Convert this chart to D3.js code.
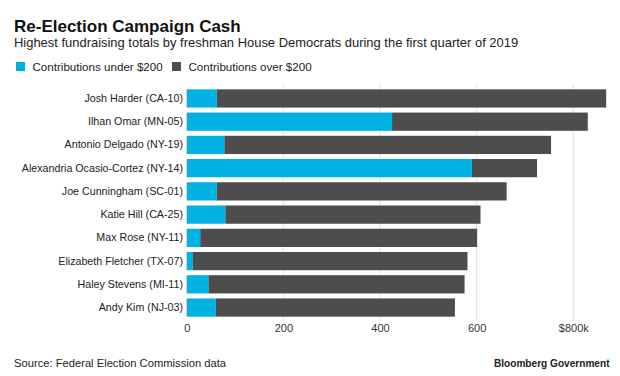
<!DOCTYPE html>
<html>
<head>
<meta charset="utf-8">
<script src="https://cdn.jsdelivr.net/npm/d3@7"></script>
<style>
  html, body { margin: 0; padding: 0; background: #fff; }
  svg { display: block; font-family: "Liberation Sans", Arial, Helvetica, sans-serif; }
</style>
</head>
<body>
<svg id="chart" width="620" height="376"></svg>
<script>
const candidates = [
  "Josh Harder (CA-10)",
  "Ilhan Omar (MN-05)",
  "Antonio Delgado (NY-19)",
  "Alexandria Ocasio-Cortez (NY-14)",
  "Joe Cunningham (SC-01)",
  "Katie Hill (CA-25)",
  "Max Rose (NY-11)",
  "Elizabeth Fletcher (TX-07)",
  "Haley Stevens (MI-11)",
  "Andy Kim (NJ-03)"
];
// thousands of dollars
const under200 = [62, 425, 78, 590, 62, 80, 28, 12, 45, 60];
const over200  = [806, 405, 676, 135, 600, 528, 573, 569, 530, 495];
const tickValues = [0, 200, 400, 600, 800];
const tickLabels = ["0", "200", "400", "600", "$800k"];
const seriesNames = ["Contributions under $200", "Contributions over $200"];
const seriesColors = ["#00b1e1", "#4d4d4d"];

const svg = d3.select("#chart");

const x = d3.scaleLinear().domain([0, 800]).range([186.7, 573.3]);
const y = d3.scaleBand().domain(candidates).range([87, 319]).paddingInner(0.215).paddingOuter(0.1);

// Title & subtitle
svg.append("text").attr("x", 14).attr("y", 31.5)
  .attr("font-size", 17).attr("font-weight", "bold").attr("fill", "#111")
  .text("Re-Election Campaign Cash");
svg.append("text").attr("x", 14).attr("y", 47.3)
  .attr("font-size", 12.95).attr("fill", "#222")
  .text("Highest fundraising totals by freshman House Democrats during the first quarter of 2019");

// Legend
const legendX = [16, 172];
seriesNames.forEach((n, i) => {
  svg.append("rect").attr("x", legendX[i]).attr("y", 62).attr("width", 9).attr("height", 9)
    .attr("fill", seriesColors[i]);
  svg.append("text").attr("x", legendX[i] + 16.5).attr("y", 70.8)
    .attr("font-size", 11.6).attr("fill", "#222").text(n);
});

// Gridlines
svg.append("g").selectAll("line").data(tickValues.filter(d => d > 0)).join("line")
  .attr("x1", d => x(d)).attr("x2", d => x(d))
  .attr("y1", 83).attr("y2", 321)
  .attr("stroke", "#e2e2e2").attr("stroke-width", 1);

// Bars
const stacked = d3.stack().keys([0, 1]).value((d, k) => d[k])(
  candidates.map((c, i) => [under200[i], over200[i]])
);
stacked.forEach((layer, k) => {
  svg.append("g").selectAll("rect").data(layer).join("rect")
    .attr("x", d => x(d[0]))
    .attr("width", d => x(d[1]) - x(d[0]))
    .attr("y", (d, i) => y(candidates[i]))
    .attr("height", y.bandwidth())
    .attr("fill", seriesColors[k]);
});

// Category labels
const yAxis = d3.axisLeft(y).tickSize(0).tickPadding(0);
const yg = svg.append("g").attr("transform", "translate(183,0)").call(yAxis);
yg.select(".domain").remove();
yg.selectAll("text").attr("font-size", 10.7).attr("fill", "#222")
  .attr("font-family", "Liberation Sans, Arial, sans-serif");

// X axis labels
const xAxis = d3.axisBottom(x).tickValues(tickValues)
  .tickFormat((d, i) => tickLabels[i]).tickSize(0).tickPadding(0);
const xg = svg.append("g").attr("transform", "translate(0,324)").call(xAxis);
xg.select(".domain").remove();
xg.selectAll("text").attr("font-size", 11).attr("fill", "#333")
  .attr("font-family", "Liberation Sans, Arial, sans-serif");

// Footer
svg.append("text").attr("x", 14).attr("y", 366.5)
  .attr("font-size", 11.2).attr("fill", "#222")
  .text("Source: Federal Election Commission data");
svg.append("text").attr("x", 609.5).attr("y", 366.5).attr("text-anchor", "end")
  .attr("font-size", 10.1).attr("font-weight", "bold").attr("fill", "#222")
  .text("Bloomberg Government");
</script>
</body>
</html>
